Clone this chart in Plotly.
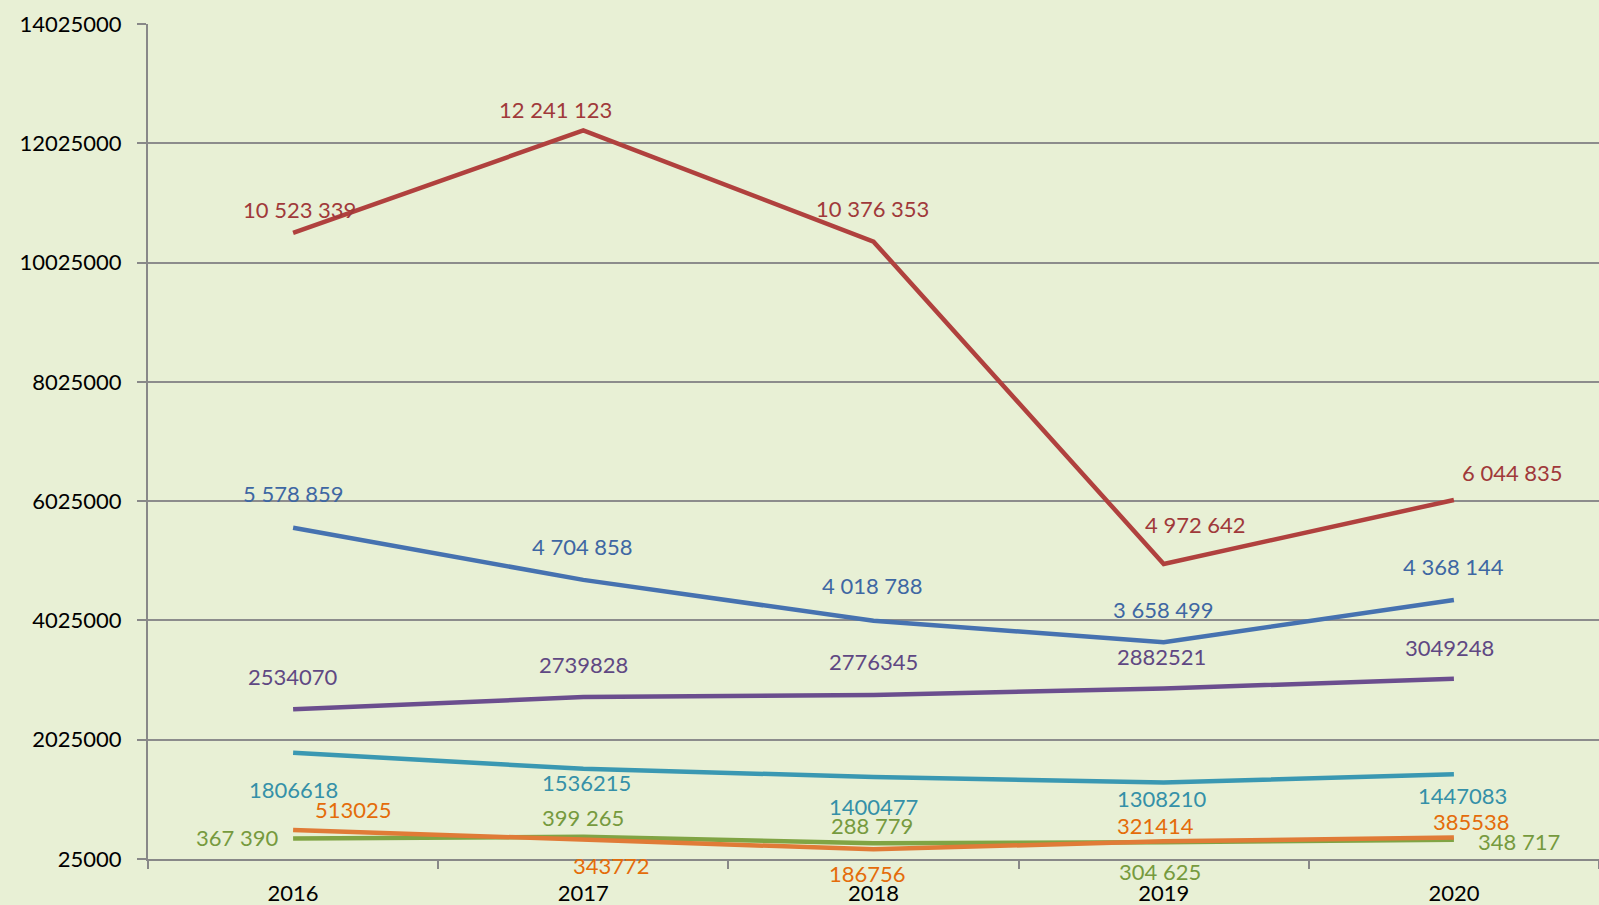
import plotly.graph_objects as go

years = ["2016", "2017", "2018", "2019", "2020"]

red_vals = [10523339, 12241123, 10376353, 4972642, 6044835]
blue_vals = [5578859, 4704858, 4018788, 3658499, 4368144]
purple_vals = [2534070, 2739828, 2776345, 2882521, 3049248]
teal_vals = [1806618, 1536215, 1400477, 1308210, 1447083]
orange_vals = [513025, 343772, 186756, 321414, 385538]
green_vals = [367390, 399265, 288779, 304625, 348717]

y_ticks = [25000, 2025000, 4025000, 6025000, 8025000, 10025000, 12025000, 14025000]

FONT = "Lato"
FS = 22

series = [
    # values, line colour, label colour, space-grouped?, label offsets (dx, dy down)
    (red_vals, "#B0413E", "#A0393A", True,
     [(6, -23), (-28, -21), (-1, -33), (32, -39), (59, -27)]),
    (blue_vals, "#4672B0", "#3E67A3", True,
     [(0, -34), (-1, -33), (-1, -35), (0, -33), (0, -33)]),
    (purple_vals, "#6B4E8E", "#5F4883", False,
     [(0, -33), (0, -33), (0, -33), (-2, -32), (-4, -31)]),
    (teal_vals, "#3A98B2", "#3590A8", False,
     [(0, 37), (3, 14), (0, 30), (-2, 16), (9, 21)]),
    (green_vals, "#80A444", "#769A3E", True,
     [(-56, -1), (0, -19), (-2, -18), (-4, 29), (65, 2)]),
    (orange_vals, "#E07B37", "#E46C0A", False,
     [(60, -20), (28, 26), (-6, 24), (-8, -16), (18, -16)]),
]


def fmt(v, spaced):
    s = f"{v:,}"
    return s.replace(",", " ") if spaced else s.replace(",", "")


fig = go.Figure()
for vals, lc, tc, spaced, offs in series:
    fig.add_trace(go.Scatter(
        x=years, y=vals, mode="lines",
        line=dict(color=lc, width=4.5),
        showlegend=False, hoverinfo="skip",
    ))
    for i, (v, (dx, dy)) in enumerate(zip(vals, offs)):
        fig.add_annotation(
            x=i, y=v, xref="x", yref="y", text=fmt(v, spaced),
            showarrow=False, xshift=dx, yshift=-dy,
            font=dict(family=FONT, size=FS, color=tc),
        )

fig.update_layout(
    width=1599, height=905,
    margin=dict(l=148, r=0, t=24, b=46),
    paper_bgcolor="#E8F0D5",
    plot_bgcolor="#E8F0D5",
    showlegend=False,
    font=dict(family=FONT, size=FS, color="black"),
)
fig.update_xaxes(
    type="category", range=[-0.5, 4.5], automargin=False,
    tickson="boundaries", ticks="outside", ticklen=8, tickcolor="#888888",
    tickwidth=1.5, showgrid=False,
    showline=True, linecolor="#888888", linewidth=1.5,
    tickfont=dict(family=FONT, size=FS, color="black"),
    ticklabelstandoff=14,
)
fig.update_yaxes(
    range=[25000, 14025000], tickvals=y_ticks, automargin=False,
    ticktext=[str(t) + "\u00a0\u00a0" for t in y_ticks],
    showgrid=True, gridcolor="#8C8C8C", gridwidth=1.5,
    ticks="outside", ticklen=9, tickcolor="#888888", tickwidth=1.5,
    showline=True, linecolor="#888888", linewidth=1.5,
    zeroline=False,
    tickfont=dict(family=FONT, size=FS, color="black"),
)

fig.write_html("out.html", config={"displayModeBar": False},
               post_script="document.body.style.margin='0';")
